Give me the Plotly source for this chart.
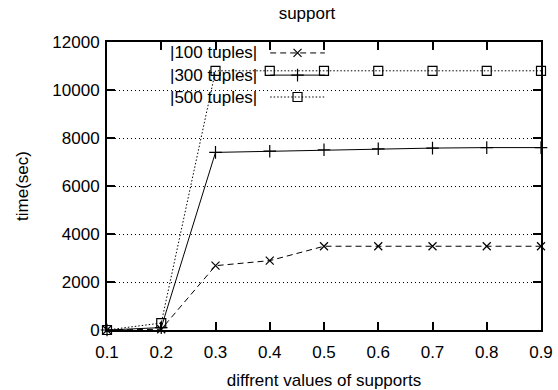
import plotly.graph_objects as go

supports = [0.1, 0.2, 0.3, 0.4, 0.5, 0.6, 0.7, 0.8, 0.9]
t100 = [0, 30, 2680, 2890, 3490, 3490, 3490, 3490, 3490]
t300 = [0, 100, 7400, 7450, 7510, 7550, 7580, 7600, 7600]
t500 = [0, 290, 10800, 10800, 10800, 10800, 10800, 10800, 10800]
names = ["|100 tuples|", "|300 tuples|", "|500 tuples|"]
yticks = [0, 2000, 4000, 6000, 8000, 10000, 12000]
xticks = supports

FONT = "Liberation Sans, Arial, sans-serif"
FS = 17
styles = [
    dict(dash="6px,4px", symbol="x-thin-open", size=8),
    dict(dash="solid", symbol="cross-thin-open", size=9),
    dict(dash="1.5px,2px", symbol="square-open", size=9),
]
series = [t100, t300, t500]

fig = go.Figure()
for ys, nm, st in zip(series, names, styles):
    fig.add_trace(go.Scatter(
        x=supports, y=ys, mode="lines+markers", name=nm, showlegend=False,
        line=dict(color="black", width=1, dash=st["dash"]),
        marker=dict(symbol=st["symbol"], size=st["size"], color="black",
                    line=dict(color="black", width=1.2)),
        cliponaxis=False,
    ))

# manual legend (text left of key sample, gnuplot style)
key_rows = [0.962, 0.885, 0.809]
for nm, st, ky in zip(names, styles, key_rows):
    fig.add_trace(go.Scatter(
        x=[0.376, 0.502], y=[ky, ky], mode="lines", xaxis="x2", yaxis="y2",
        line=dict(color="black", width=1, dash=st["dash"]), showlegend=False,
        hoverinfo="skip"))
    fig.add_trace(go.Scatter(
        x=[0.439], y=[ky], mode="markers", xaxis="x2", yaxis="y2",
        marker=dict(symbol=st["symbol"], size=st["size"], color="black",
                    line=dict(color="black", width=1.2)),
        showlegend=False, hoverinfo="skip"))
    fig.add_annotation(text=nm, x=0.35, y=ky, xref="paper", yref="paper",
                       xanchor="right", yanchor="middle", showarrow=False,
                       font=dict(family=FONT, size=FS, color="black"))

# white box behind legend hiding the gridline
fig.add_shape(type="rect", xref="paper", yref="paper", x0=0.005, x1=0.525,
              y0=0.78, y1=0.99, fillcolor="white", line=dict(width=0),
              layer="between")

fig.update_layout(
    width=558, height=390,
    margin=dict(l=107, r=17, t=42, b=60),
    paper_bgcolor="white", plot_bgcolor="white",
    font=dict(family=FONT, size=FS, color="black"),
    title=dict(text="support", x=307 / 558, xanchor="center", y=1 - 13 / 390,
               yanchor="middle", font=dict(family=FONT, size=FS, color="black")),
    xaxis=dict(range=[0.1, 0.9], tickvals=xticks,
               ticktext=[f"{v:.1f}" for v in xticks],
               ticks="inside", ticklen=8, tickwidth=1.5, tickcolor="black",
               ticklabelstandoff=6, automargin=False,
               showline=True, linewidth=2, linecolor="black", mirror="ticks",
               showgrid=False, zeroline=False,
               title=dict(text="diffrent values of supports", standoff=13,
                          font=dict(family=FONT, size=FS))),
    yaxis=dict(range=[0, 12000], tickvals=yticks, tickformat="d",
               ticks="inside", ticklen=8, tickwidth=1.5, tickcolor="black",
               ticklabelstandoff=2, automargin=False,
               showline=True, linewidth=2, linecolor="black", mirror="ticks",
               showgrid=True, gridcolor="black", griddash="1px,3px", gridwidth=1,
               zeroline=False,
               title=dict(text="time(sec)", standoff=19,
                          font=dict(family=FONT, size=FS))),
    xaxis2=dict(overlaying="x", range=[0, 1], visible=False),
    yaxis2=dict(overlaying="y", range=[0, 1], visible=False),
)

fig.write_html("out.html")
